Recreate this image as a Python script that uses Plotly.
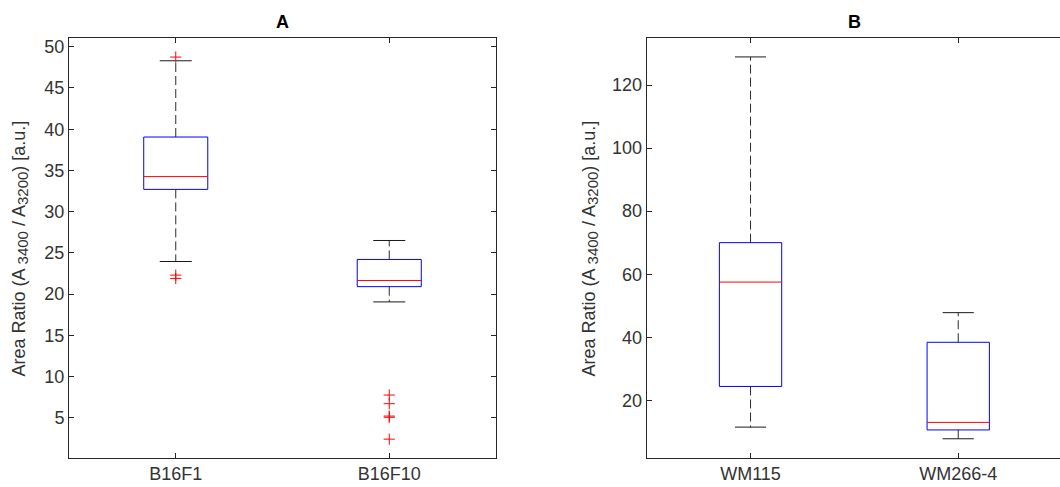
import plotly.graph_objects as go

# Panel A: mouse melanoma lines
cats_a = ["B16F1", "B16F10"]
q1_a = [32.7, 20.9]
med_a = [34.25, 21.65]
q3_a = [39.05, 24.2]
lo_a = [23.95, 19.05]
hi_a = [48.3, 26.5]
out_a = [[48.75, 22.3, 21.9], [7.75, 6.7, 5.2, 5.05, 2.4]]

# Panel B: human melanoma lines
cats_b = ["WM115", "WM266-4"]
q1_b = [24.4, 10.6]
med_b = [57.5, 13.0]
q3_b = [70.0, 38.4]
lo_b = [11.5, 7.8]
hi_b = [128.9, 47.8]
out_b = [[], []]

BOX_HALF = 0.15
CAP_HALF = 0.075
FONT = "Liberation Sans, Arial, sans-serif"
AXC = "#262626"
TXT = "#333333"

fig = go.Figure()


def add_boxes(cats, q1, med, q3, lo, hi, outs, xa, ya):
    for i in range(len(cats)):
        p = i + 1
        # dashed whiskers
        for a, b in ((q3[i], hi[i]), (q1[i], lo[i])):
            fig.add_trace(go.Scatter(x=[p, p], y=[a, b], mode="lines",
                                     line=dict(color="#2b2b2b", width=1, dash="9px,4px"),
                                     xaxis=xa, yaxis=ya, hoverinfo="skip"))
        # whisker caps
        for v in (hi[i], lo[i]):
            fig.add_trace(go.Scatter(x=[p - CAP_HALF, p + CAP_HALF], y=[v, v], mode="lines",
                                     line=dict(color="#1a1a1a", width=1),
                                     xaxis=xa, yaxis=ya, hoverinfo="skip"))
        # box
        fig.add_trace(go.Scatter(x=[p - BOX_HALF, p + BOX_HALF, p + BOX_HALF, p - BOX_HALF, p - BOX_HALF],
                                 y=[q1[i], q1[i], q3[i], q3[i], q1[i]], mode="lines",
                                 line=dict(color="#0000ff", width=1),
                                 xaxis=xa, yaxis=ya, hoverinfo="skip"))
        # median
        fig.add_trace(go.Scatter(x=[p - BOX_HALF, p + BOX_HALF], y=[med[i], med[i]], mode="lines",
                                 line=dict(color="#ff0000", width=1),
                                 xaxis=xa, yaxis=ya, hoverinfo="skip"))
        # outliers
        if outs[i]:
            fig.add_trace(go.Scatter(x=[p] * len(outs[i]), y=outs[i], mode="markers",
                                     marker=dict(symbol="cross-thin-open", size=8, color="#ff0000",
                                                 line=dict(color="#ff0000", width=1)),
                                     xaxis=xa, yaxis=ya, hoverinfo="skip"))


add_boxes(cats_a, q1_a, med_a, q3_a, lo_a, hi_a, out_a, "x", "y")
add_boxes(cats_b, q1_b, med_b, q3_b, lo_b, hi_b, out_b, "x2", "y2")

SUB = '<sub><span style="font-size:15px">{}</span></sub>'
ylabel = "Area Ratio (A " + SUB.format("3400") + " / A" + SUB.format("3200") + ") [a.u.]"
common_ax = dict(showgrid=False, zeroline=False, showline=True, linecolor=AXC, linewidth=1,
                 ticks="inside", ticklen=5, tickcolor=AXC, tickwidth=1,
                 tickfont=dict(family=FONT, size=18, color=TXT))

ydom = [1 - 457.7 / 487, 1 - 37.7 / 487]
ylab_y = 1 - 248.5 / 487
title_y = 1 - 22 / 487

fig.update_layout(
    width=1060, height=487,
    margin=dict(l=0, r=0, t=0, b=0),
    paper_bgcolor="white", plot_bgcolor="white",
    showlegend=False,
    xaxis=dict(domain=[69 / 1060, 496 / 1060], range=[0.5, 2.5],
               tickvals=[1, 2], ticktext=cats_a, mirror="ticks", anchor="y", **common_ax),
    yaxis=dict(domain=ydom, range=[0.15, 51.1], tickvals=list(range(5, 51, 5)),
               mirror="ticks", anchor="x", **common_ax),
    xaxis2=dict(domain=[646.7 / 1060, 1.0], range=[0.5, 2.49],
                tickvals=[1, 2], ticktext=cats_b, mirror="ticks", anchor="y2", **common_ax),
    yaxis2=dict(domain=ydom, range=[1.8, 135.0], tickvals=list(range(20, 121, 20)),
                mirror=False, anchor="x2", **common_ax),
    annotations=[
        dict(text="<b>A</b>", x=(69 + 496) / 2 / 1060, y=title_y, xref="paper", yref="paper",
             xanchor="center", yanchor="middle", showarrow=False,
             font=dict(family=FONT, size=18, color="black")),
        dict(text="<b>B</b>", x=(646.7 + 1061.7) / 2 / 1060, y=title_y, xref="paper", yref="paper",
             xanchor="center", yanchor="middle", showarrow=False,
             font=dict(family=FONT, size=18, color="black")),
        dict(text=ylabel, x=20 / 1060, y=ylab_y, xref="paper", yref="paper", textangle=-90,
             xanchor="center", yanchor="middle", showarrow=False,
             font=dict(family=FONT, size=18, color=TXT)),
        dict(text=ylabel, x=590 / 1060, y=ylab_y, xref="paper", yref="paper", textangle=-90,
             xanchor="center", yanchor="middle", showarrow=False,
             font=dict(family=FONT, size=18, color=TXT)),
    ],
)

fig.write_html("out.html")
